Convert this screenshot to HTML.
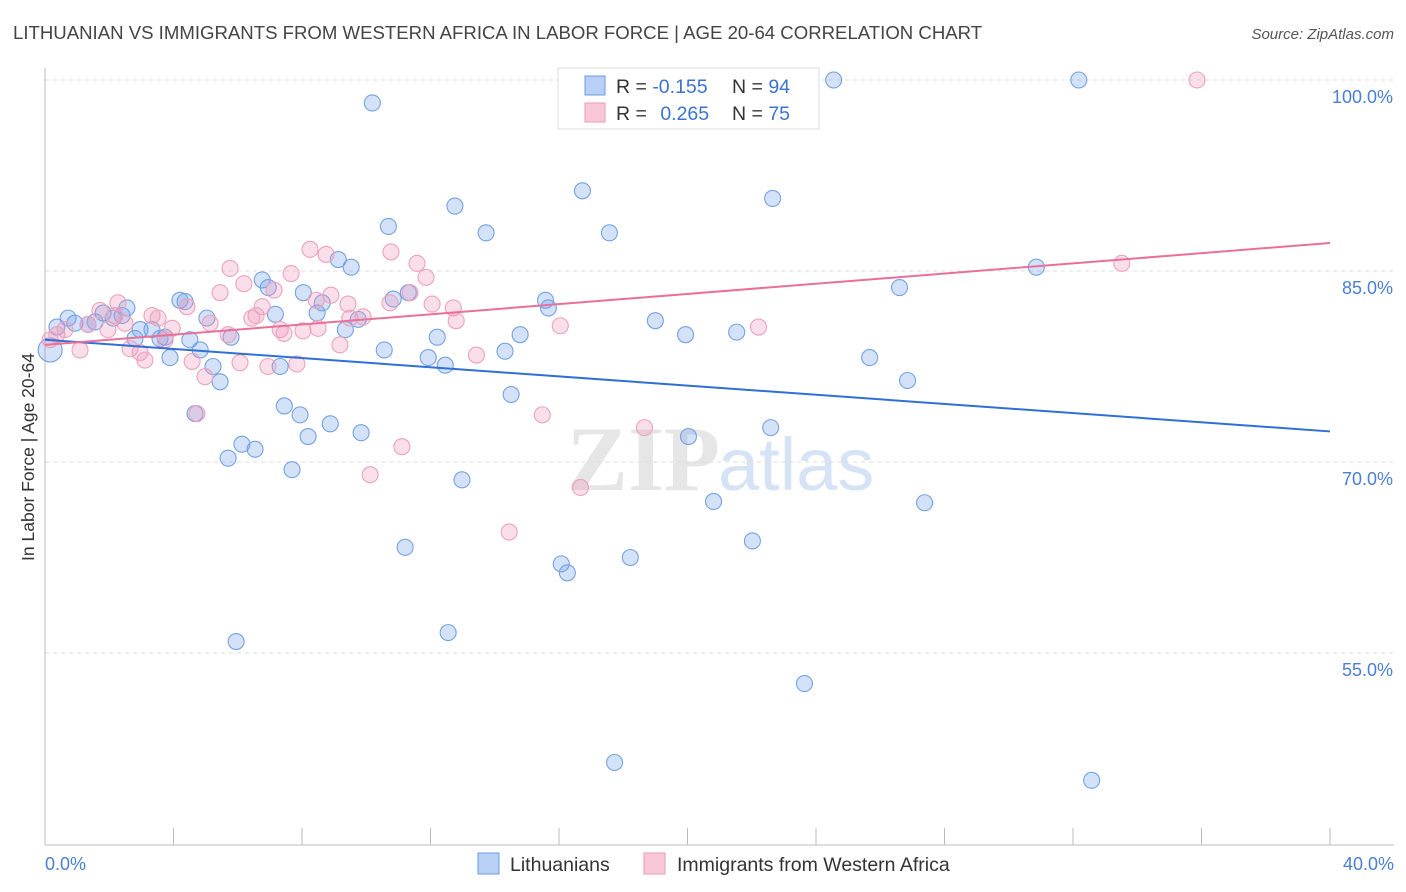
<!DOCTYPE html>
<html><head><meta charset="utf-8"><style>
body{margin:0;background:#fff;font-family:"Liberation Sans",sans-serif;}
#wrap{position:relative;width:1406px;height:892px;overflow:hidden;}
</style></head><body>
<div id="wrap">
<svg id="chart" width="1406" height="892" style="position:absolute;left:0;top:0">
<text x="13" y="39" font-size="18.6" fill="#444">LITHUANIAN VS IMMIGRANTS FROM WESTERN AFRICA IN LABOR FORCE | AGE 20-64 CORRELATION CHART</text>
<text x="1394" y="39" font-size="15" fill="#555" text-anchor="end" font-style="italic">Source: ZipAtlas.com</text>
<text x="720" y="490" font-size="92" fill="#e6e6e6" text-anchor="end" font-family="Liberation Serif" font-weight="bold">ZIP</text>
<text x="718" y="490" font-size="74" fill="#d6e3f5">atlas</text>
<text transform="translate(34,457) rotate(-90)" font-size="17.5" fill="#333" text-anchor="middle">In Labor Force | Age 20-64</text>
<g id="grid"></g><g id="axes"></g><g id="pts"></g><g id="lines"></g>
<g>
<rect x="558" y="68" width="261" height="61" fill="#fff" stroke="#ddd"/>
<rect x="585" y="76" width="20" height="19" fill="#b8d0f5" stroke="#6a9be0"/>
<rect x="585" y="103" width="20" height="19" fill="#f8c8d8" stroke="#eb9bb5"/>
<text x="616" y="93" font-size="19.5" fill="#333">R = <tspan fill="#3b73d0">-0.155</tspan></text>
<text x="732" y="93" font-size="19.5" fill="#333">N = <tspan fill="#3b73d0">94</tspan></text>
<text x="616" y="120" font-size="19.5" fill="#333">R = <tspan fill="#3b73d0" dx="8">0.265</tspan></text>
<text x="732" y="120" font-size="19.5" fill="#333">N = <tspan fill="#3b73d0">75</tspan></text>
</g>
<g>
<rect x="478" y="853" width="21" height="21" fill="#b8d0f5" stroke="#6a9be0"/>
<text x="510" y="871" font-size="19.5" fill="#333">Lithuanians</text>
<rect x="644" y="853" width="21" height="21" fill="#f8c8d8" stroke="#eb9bb5"/>
<text x="677" y="871" font-size="19.5" fill="#333">Immigrants from Western Africa</text>
</g>
</svg>
</div>
<script>
const yTicks=[100,85,70,55];
const yTickLabels=["100.0%","85.0%","70.0%","55.0%"];
const xTickLabels=["0.0%","40.0%"];
const blueX=[0.16,0.37,0.72,0.93,1.34,1.56,1.81,2.12,2.40,2.55,2.80,2.96,3.33,3.58,3.74,3.89,4.20,4.36,4.51,4.83,5.04,5.23,5.45,4.67,5.70,5.79,6.13,6.54,6.76,6.95,7.17,7.32,7.45,7.69,7.94,8.04,8.19,8.47,8.63,8.88,9.13,9.35,9.53,9.75,9.84,10.19,10.56,10.69,10.84,11.21,11.31,11.93,12.21,12.46,12.55,12.76,12.98,13.73,14.32,14.51,14.79,15.58,15.67,16.07,16.26,16.73,17.57,17.73,18.22,19.00,19.94,20.03,20.81,21.53,22.02,22.59,22.65,23.64,24.55,25.67,26.60,26.85,27.38,30.86,32.18,32.58,5.95];
const blueY=[78.8,80.6,81.3,80.9,80.8,81.0,81.7,81.3,81.5,82.1,79.7,80.4,80.4,79.7,79.8,78.2,82.7,82.6,79.6,78.8,81.3,77.5,76.3,73.8,70.3,79.8,71.4,71.0,84.3,83.7,81.6,77.5,74.4,69.4,73.7,83.3,72.0,81.7,82.5,73.0,85.9,80.4,85.3,81.2,72.3,98.2,78.8,88.5,82.8,63.3,83.3,78.2,79.8,77.6,56.6,90.1,68.6,88.0,78.7,75.3,80.0,82.7,82.1,62.0,61.3,91.3,88.0,46.4,62.5,81.1,80.0,72.0,66.9,80.2,63.8,72.7,90.7,52.6,100,78.2,83.7,76.4,66.8,85.3,100,45.0,55.9];
const pinkX=[0.16,0.37,0.62,1.09,1.34,1.71,1.96,2.18,2.27,2.49,2.65,2.96,3.11,3.33,3.52,3.74,3.96,4.42,4.58,4.73,4.98,5.14,5.45,5.70,5.76,6.07,6.19,6.44,6.57,6.76,6.94,7.13,7.32,7.44,7.66,7.84,8.03,8.25,8.44,8.50,8.75,8.90,9.18,9.43,9.49,9.90,10.12,10.74,10.77,11.11,11.36,11.58,11.86,12.05,12.71,12.80,13.43,14.45,15.48,16.04,16.67,18.66,22.21,33.52,35.86];
const pinkY=[79.6,80.0,80.4,78.8,80.8,81.9,80.4,81.5,82.5,80.9,78.9,78.6,78.0,81.5,81.3,79.6,80.5,82.2,77.9,73.8,76.7,80.9,83.3,80.0,85.2,77.8,84.0,81.3,81.5,82.2,77.5,83.5,80.4,80.1,84.8,77.7,80.3,86.7,82.7,80.5,86.3,83.1,79.2,82.4,81.3,81.4,69.0,82.5,86.5,71.2,83.3,85.6,84.5,82.4,82.1,81.1,78.4,64.5,73.7,80.7,68.0,72.7,80.6,85.6,100];
const blueTrend=[79.6,72.4];
const pinkTrend=[79.2,87.2];
const NS="http://www.w3.org/2000/svg";
function X(v){return 45+v*(1330-45)/40;}
function Y(v){return 80+(100-v)*191/15;}
function mk(tag,attrs,parent){const e=document.createElementNS(NS,tag);for(const k in attrs)e.setAttribute(k,attrs[k]);document.getElementById(parent).appendChild(e);return e;}
yTicks.forEach((t,i)=>{
 const l=mk('line',{x1:45,x2:1394,y1:Y(t),y2:Y(t),stroke:'#ddd','stroke-dasharray':'4,4'},'grid');
 
 
 const tx=mk('text',{x:1393,y:Y(t)+23,'font-size':18,fill:'#4a7fd4','text-anchor':'end'},'grid');
 tx.textContent=yTickLabels[i];
 
 
});
const ax=mk('line',{x1:45,x2:45,y1:68,y2:845,stroke:'#bbb'},'axes');


const bx=mk('line',{x1:45,x2:1394,y1:845,y2:845,stroke:'#bbb'},'axes');


for(let i=0;i<=10;i++){
 const t=mk('line',{x1:X(i*4),x2:X(i*4),y1:828,y2:845,stroke:'#bbb'},'axes');
 
 
}
[[0,xTickLabels[0],'start',45],[40,xTickLabels[1],'end',1394]].forEach(a=>{
 const t=mk('text',{x:a[3],y:870,'font-size':18,fill:'#4a7fd4','text-anchor':a[2]},'axes');
 t.textContent=a[1];
 
 
});
function dots(xs,ys,fill,stroke,name){
 xs.forEach((v,i)=>{
  const r=(i===0&&name==='blue-point')?12:8;
  const c=mk('circle',{cx:X(v),cy:Y(ys[i]),r:r,fill:fill,stroke:stroke,'stroke-width':1.1},'pts');
  
  
 });
}
dots(blueX,blueY,'rgba(110,160,235,0.3)','#74a2e2','blue-point');
dots(pinkX,pinkY,'rgba(240,150,185,0.3)','#eda2bb','pink-point');
const bl=mk('line',{x1:X(0),y1:Y(blueTrend[0]),x2:X(40),y2:Y(blueTrend[1]),stroke:'#2f6fd6','stroke-width':2},'lines');


const pl=mk('line',{x1:X(0),y1:Y(pinkTrend[0]),x2:X(40),y2:Y(pinkTrend[1]),stroke:'#e8709a','stroke-width':2},'lines');


</script>
</body></html>
